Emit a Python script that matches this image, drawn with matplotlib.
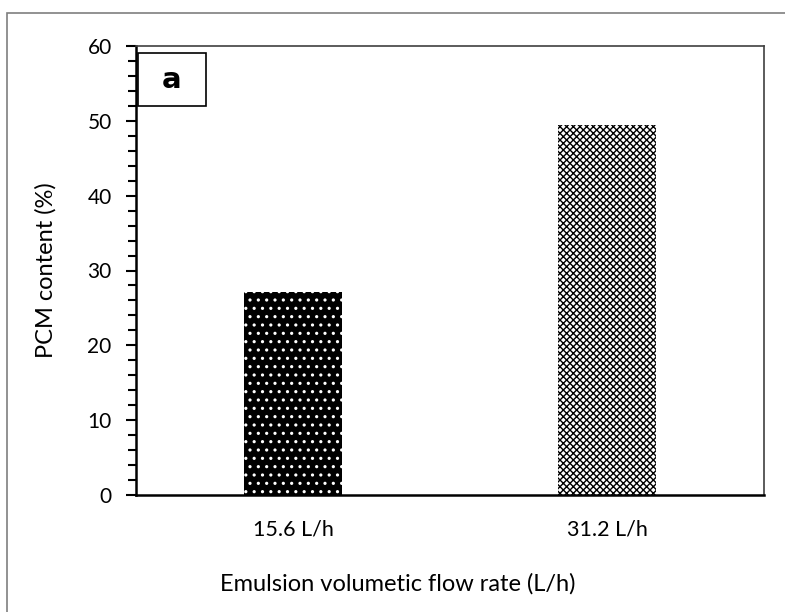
import matplotlib.pyplot as plt
from matplotlib.patches import Rectangle
from matplotlib.ticker import MultipleLocator

categories = ["15.6 L/h", "31.2 L/h"]
pcm_content = [27.1, 49.5]

plt.rcParams["font.family"] = ["Lato", "DejaVu Sans"]

fig = plt.figure(figsize=(7.85, 6.12), dpi=100)
W, H = 785, 612
ax = fig.add_axes([136 / W, 1 - 495 / H, (764 - 136) / W, (495 - 46) / H])

# outer chart-area border (cut off on right and bottom)
fig.patches.append(Rectangle((7 / W, -0.1), 1.2, 1.1 - 13 / H, transform=fig.transFigure,
                             fill=False, edgecolor="#7f7f7f", linewidth=1.2))

x = list(range(len(categories)))
bars = ax.bar(x, pcm_content, width=0.315, linewidth=0)
bars[0].set_facecolor("black")
bars[0].set_hatch("..")
bars[0].set_edgecolor("white")
bars[1].set_facecolor("white")
bars[1].set_hatch("xxxxx")
bars[1].set_edgecolor("black")
if hasattr(bars[1], "set_hatch_linewidth"):
    bars[0].set_hatch_linewidth(1.1)
    bars[1].set_hatch_linewidth(1.0)

ax.set_xlim(-0.5, 1.5)
ax.set_ylim(0, 60)
ax.yaxis.set_major_locator(MultipleLocator(10))
ax.yaxis.set_minor_locator(MultipleLocator(2))
ax.tick_params(axis="y", which="major", length=7.5, width=1.5, labelsize=15, pad=10, direction="out")
ax.tick_params(axis="y", which="minor", length=5.5, width=1.5, direction="out")
ax.set_xticks(x)
ax.set_xticklabels(categories)
ax.tick_params(axis="x", length=0, labelsize=15.5, pad=18)

for s in ["left", "bottom"]:
    ax.spines[s].set_linewidth(1.8)
    ax.spines[s].set_color("black")
for s in ["top", "right"]:
    ax.spines[s].set_linewidth(1.2)
    ax.spines[s].set_color("#404040")

ax.set_ylabel("PCM content (%)", fontsize=17)
ax.set_xlabel("Emulsion volumetic flow rate (L/h)", fontsize=17)
ax.yaxis.set_label_coords((46 - 136) / (764 - 136), 0.5)
ax.xaxis.set_label_coords((398 - 136) / (764 - 136), -(584 - 495) / (495 - 46))
ax.yaxis.label.set_va("center")
ax.xaxis.label.set_va("center")

# panel label box
ax.add_patch(Rectangle(((138 - 136) / 628, (495 - 106) / 449), 68 / 628, 53 / 449,
                       transform=ax.transAxes, facecolor="white", edgecolor="black",
                       linewidth=1.2, zorder=3))
ax.text((172 - 136) / 628, (495 - 80) / 449, "a", transform=ax.transAxes, fontsize=21,
        fontweight="bold", family="DejaVu Sans", ha="center", va="center", zorder=4)

fig.savefig("out.png", dpi=100, facecolor="white")
